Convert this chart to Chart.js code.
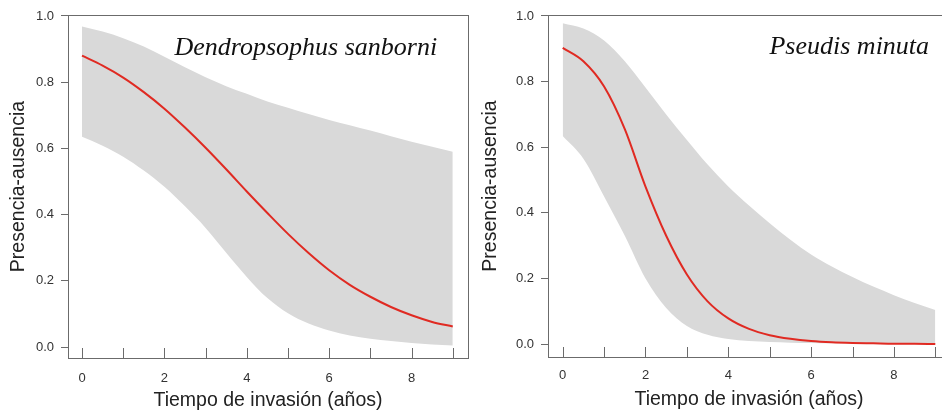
<!DOCTYPE html>
<html>
<head>
<meta charset="utf-8">
<script src="https://cdn.jsdelivr.net/npm/chart.js@4.4.1/dist/chart.umd.min.js"></script>
<style>
  html, body { margin: 0; padding: 0; background: #fff; overflow: hidden; width: 942px; height: 414px; }
  #left { position: absolute; left: 0; top: 0; }
  #right { position: absolute; left: 472px; top: 0; }
</style>
</head>
<body>
<canvas id="left" width="471" height="414"></canvas>
<canvas id="right" width="480" height="414"></canvas>
<script>
// years since invasion (x positions where the curves were read)
const years = [0, 0.5, 1, 1.5, 2, 2.5, 3, 3.5, 4, 4.5, 5, 5.5, 6, 6.5, 7, 7.5, 8, 8.5, 9];

// Dendropsophus sanborni
const sanborniFit   = [0.880, 0.850, 0.814, 0.770, 0.720, 0.663, 0.602, 0.537, 0.470, 0.405, 0.342, 0.284, 0.232, 0.188, 0.152, 0.121, 0.096, 0.076, 0.062];
const sanborniUpper = [0.968, 0.953, 0.933, 0.908, 0.877, 0.845, 0.815, 0.788, 0.765, 0.742, 0.723, 0.704, 0.686, 0.670, 0.654, 0.637, 0.620, 0.605, 0.590];
const sanborniLower = [0.635, 0.608, 0.575, 0.533, 0.484, 0.425, 0.360, 0.285, 0.212, 0.148, 0.102, 0.071, 0.050, 0.035, 0.025, 0.018, 0.012, 0.008, 0.005];

// Pseudis minuta
const minutaFit   = [0.903, 0.862, 0.785, 0.655, 0.480, 0.330, 0.212, 0.130, 0.078, 0.046, 0.027, 0.016, 0.009, 0.005, 0.003, 0.002, 0.001, 0.001, 0.000];
const minutaUpper = [0.978, 0.962, 0.925, 0.862, 0.782, 0.700, 0.622, 0.547, 0.480, 0.422, 0.368, 0.318, 0.273, 0.236, 0.204, 0.175, 0.149, 0.125, 0.104];
const minutaLower = [0.634, 0.565, 0.450, 0.330, 0.200, 0.110, 0.055, 0.028, 0.015, 0.009, 0.006, 0.004, 0.003, 0.002, 0.002, 0.001, 0.001, 0.001, 0.001];

const yTicks = [0, 0.2, 0.4, 0.6, 0.8, 1.0];
const xTicks = [0, 1, 2, 3, 4, 5, 6, 7, 8, 9];
const xLabelled = [0, 2, 4, 6, 8];

const RED = '#e02a22';
const BAND = '#d9d9d9';
const AXIS = '#6b6b6b';
const SANS = '"Liberation Sans", Arial, Helvetica, sans-serif';

function toPoints(values) {
    return years.map((x, i) => ({ x: x, y: values[i] }));
}

// box around the plot, inside ticks on the x axis and the species name
const panelFrame = {
    id: 'panelFrame',
    afterDatasetsDraw(chart, args, opts) {
        const { ctx, chartArea } = chart;
        const xs = chart.scales.x;
        const ys = chart.scales.y;
        ctx.save();
        ctx.strokeStyle = AXIS;
        ctx.lineWidth = 1;
        ctx.strokeRect(Math.round(chartArea.left) + 0.5, Math.round(chartArea.top) + 0.5,
            Math.round(chartArea.right - chartArea.left), Math.round(chartArea.bottom - chartArea.top));
        ctx.beginPath();
        xTicks.forEach(v => {
            const px = Math.round(xs.getPixelForValue(v)) + 0.5;
            ctx.moveTo(px, chartArea.bottom);
            ctx.lineTo(px, chartArea.bottom - opts.tickLen);
        });
        ctx.stroke();
        ctx.fillStyle = '#111';
        ctx.font = 'italic 26px "Liberation Serif", "Times New Roman", serif';
        ctx.textAlign = 'right';
        ctx.textBaseline = 'alphabetic';
        ctx.fillText(opts.species, xs.getPixelForValue(opts.anchorX), ys.getPixelForValue(opts.anchorY));
        ctx.restore();
    }
};

function drawPanel(id, species, fit, lower, upper, frame) {
    const ctx = document.getElementById(id).getContext('2d');
    return new Chart(ctx, {
        type: 'line',
        data: {
            datasets: [{
                label: 'Ajuste',
                data: toPoints(fit),
                borderColor: RED,
                borderWidth: 2,
                fill: false,
                order: 0
            }, {
                label: 'IC superior',
                data: toPoints(upper),
                borderColor: 'transparent',
                borderWidth: 0,
                backgroundColor: BAND,
                fill: '+1',
                order: 1
            }, {
                label: 'IC inferior',
                data: toPoints(lower),
                borderColor: 'transparent',
                borderWidth: 0,
                fill: false,
                order: 2
            }]
        },
        options: {
            responsive: false,
            animation: false,
            events: [],
            elements: {
                point: { radius: 0 },
                line: { cubicInterpolationMode: 'monotone' }
            },
            layout: { padding: { top: 15, right: frame.padRight, left: 0, bottom: 0 } },
            plugins: {
                legend: { display: false },
                tooltip: { enabled: false },
                panelFrame: { species: species, anchorX: frame.anchorX, anchorY: frame.anchorY, tickLen: 10 }
            },
            scales: {
                x: {
                    type: 'linear',
                    min: frame.xMin,
                    max: frame.xMax,
                    afterBuildTicks: s => { s.ticks = xTicks.map(v => ({ value: v })); },
                    afterFit: s => { s.height = frame.xAxisHeight; },
                    grid: { display: false, drawTicks: false },
                    border: { display: false },
                    ticks: {
                        autoSkip: false,
                        maxRotation: 0,
                        padding: frame.xTickPad,
                        color: '#333',
                        font: { family: SANS, size: 13 },
                        callback: v => xLabelled.includes(v) ? String(v) : ''
                    },
                    title: {
                        display: true,
                        text: 'Tiempo de invasión (años)',
                        color: '#222',
                        font: { family: SANS, size: 19.5 },
                        padding: { top: 0, bottom: frame.xTitlePad }
                    }
                },
                y: {
                    min: frame.yMin,
                    max: frame.yMax,
                    afterBuildTicks: s => { s.ticks = yTicks.map(v => ({ value: v })); },
                    afterFit: s => { s.width = frame.yAxisWidth; },
                    grid: { drawOnChartArea: false, drawTicks: true, tickLength: 7, color: AXIS },
                    border: { display: false },
                    ticks: {
                        padding: 7,
                        color: '#333',
                        font: { family: SANS, size: 13 },
                        callback: v => v.toFixed(1)
                    },
                    title: {
                        display: true,
                        text: 'Presencia-ausencia',
                        color: '#222',
                        font: { family: SANS, size: 19.5 },
                        padding: { top: 7, bottom: 0 }
                    }
                }
            }
        },
        plugins: [panelFrame]
    });
}

drawPanel('left', 'Dendropsophus sanborni', sanborniFit, sanborniLower, sanborniUpper, {
    xMin: -0.34, xMax: 9.37, yMin: -0.033, yMax: 1.003,
    padRight: 3, yAxisWidth: 68, xAxisHeight: 56, xTickPad: 13, xTitlePad: 2,
    anchorX: 8.62, anchorY: 0.882
});

drawPanel('right', 'Pseudis minuta', minutaFit, minutaLower, minutaUpper, {
    xMin: -0.355, xMax: 9.355, yMin: -0.0396, yMax: 1.003,
    padRight: 2, yAxisWidth: 76, xAxisHeight: 57, xTickPad: 11, xTitlePad: 3,
    anchorX: 8.85, anchorY: 0.884
});
</script>
</body>
</html>
